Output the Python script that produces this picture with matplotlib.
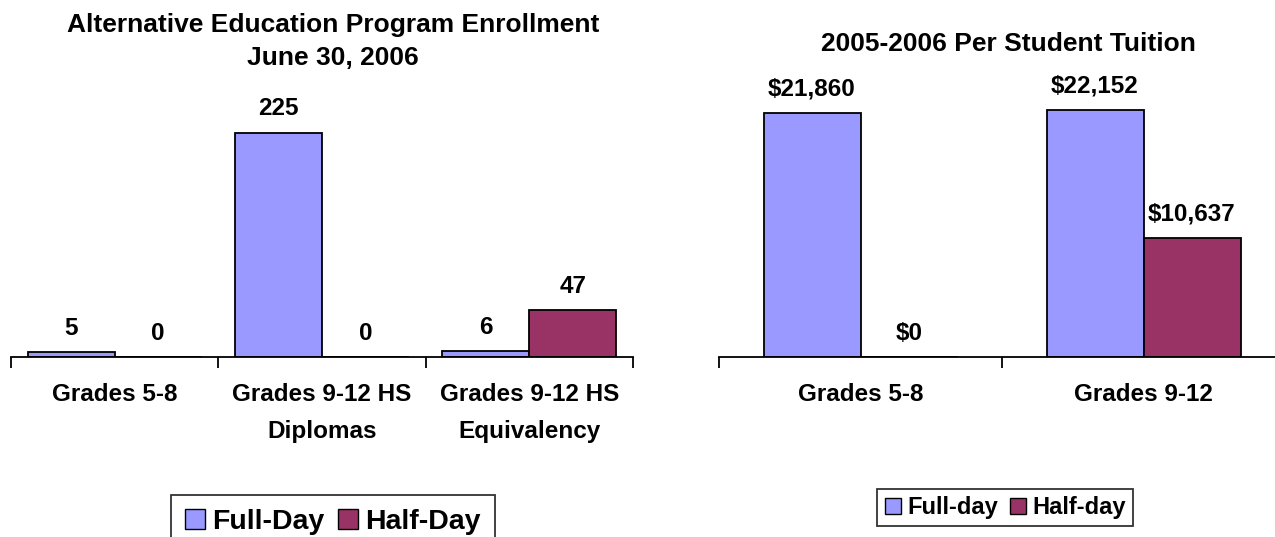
import matplotlib
matplotlib.use('Agg')
import matplotlib.pyplot as plt
from matplotlib.patches import Patch
import numpy as np

plt.rcParams['font.family'] = ['Liberation Sans', 'DejaVu Sans']
plt.rcParams['font.weight'] = 'bold'

# enrollment chart
enr_categories = ['Grades 5-8', 'Grades 9-12 HS\nDiplomas', 'Grades 9-12 HS\nEquivalency']
enr_full = [5, 225, 6]
enr_half = [0, 0, 47]

# tuition chart
tui_categories = ['Grades 5-8', 'Grades 9-12']
tui_full = [21860, 22152]
tui_half = [0, 10637]

BLUE = '#9999FF'
RED = '#993366'

W, H = 1275, 537
fig = plt.figure(figsize=(W / 100, H / 100), dpi=100)


def px_axes(x0, x1, y_axis, height):
    # pixel coords (top-left origin) -> figure fraction
    return fig.add_axes([x0 / W, (H - y_axis) / H, (x1 - x0) / W, height / H])


def style(ax, n, labels):
    for s in ['top', 'right', 'left']:
        ax.spines[s].set_visible(False)
    ax.spines['bottom'].set_linewidth(1.3)
    ax.set_yticks([])
    ax.set_xlim(-0.5, n - 0.5)
    ax.set_xticks(np.arange(n))
    ax.set_xticklabels(labels, fontsize=17.5, fontweight='bold', linespacing=1.75)
    ax.tick_params(axis='x', which='major', length=0, pad=19)
    ax.set_xticks(np.arange(n + 1) - 0.5, minor=True)
    ax.tick_params(axis='x', which='minor', length=8, width=1.3, direction='out')


# left chart
ax1 = px_axes(11, 633, 357, 249)
x = np.arange(len(enr_categories))
bw = 87 / 207
b1 = ax1.bar(x - bw / 2, enr_full, bw, color=BLUE, edgecolor='black', linewidth=1.3)
b2 = ax1.bar(x + bw / 2, enr_half, bw, color=RED, edgecolor='black', linewidth=1.3)
ax1.set_ylim(0, 250)
style(ax1, len(enr_categories), enr_categories)
for bars in (b1, b2):
    ax1.bar_label(bars, labels=[str(v) for v in bars.datavalues], padding=9,
                  fontsize=17.5, fontweight='bold')

# right chart
ax2 = px_axes(719, 1285, 357, 279)
x = np.arange(len(tui_categories))
bw = 97 / 283
c1 = ax2.bar(x - bw / 2, tui_full, bw, color=BLUE, edgecolor='black', linewidth=1.3)
c2 = ax2.bar(x + bw / 2, tui_half, bw, color=RED, edgecolor='black', linewidth=1.3)
ax2.set_ylim(0, 25000)
style(ax2, len(tui_categories), tui_categories)
for bars in (c1, c2):
    ax2.bar_label(bars, labels=['${:,.0f}'.format(v) for v in bars.datavalues], padding=9,
                  fontsize=17.5, fontweight='bold')

# titles
fig.text(333 / W, 1 - 25 / H, 'Alternative Education Program Enrollment', ha='center', va='center',
         fontsize=19, fontweight='bold')
fig.text(333 / W, 1 - 58 / H, 'June 30, 2006', ha='center', va='center',
         fontsize=19, fontweight='bold')
fig.text(1008 / W, 1 - 44 / H, '2005-2006 Per Student Tuition', ha='center', va='center',
         fontsize=19, fontweight='bold')

# legends
h1 = [Patch(facecolor=BLUE, edgecolor='black'), Patch(facecolor=RED, edgecolor='black')]
leg1 = fig.legend(h1, ['Full-Day', 'Half-Day'], loc='upper center', bbox_to_anchor=(333 / W, 1 - 495 / H),
                  ncol=2, frameon=True, fancybox=False, handlelength=0.7, handleheight=0.7,
                  handletextpad=0.25, columnspacing=0.5, borderpad=0.5, borderaxespad=0,
                  prop={'weight': 'bold', 'size': 20.5})
leg1.get_frame().set_edgecolor('black')
leg1.get_frame().set_linewidth(1.3)

leg2 = fig.legend(h1, ['Full-day', 'Half-day'], loc='upper center', bbox_to_anchor=(1005 / W, 1 - 489 / H),
                  ncol=2, frameon=True, fancybox=False, handlelength=0.7, handleheight=0.7,
                  handletextpad=0.25, columnspacing=0.5, borderpad=0.3, borderaxespad=0,
                  prop={'weight': 'bold', 'size': 17})
leg2.get_frame().set_edgecolor('black')
leg2.get_frame().set_linewidth(1.3)

fig.savefig('out.png', dpi=100)
